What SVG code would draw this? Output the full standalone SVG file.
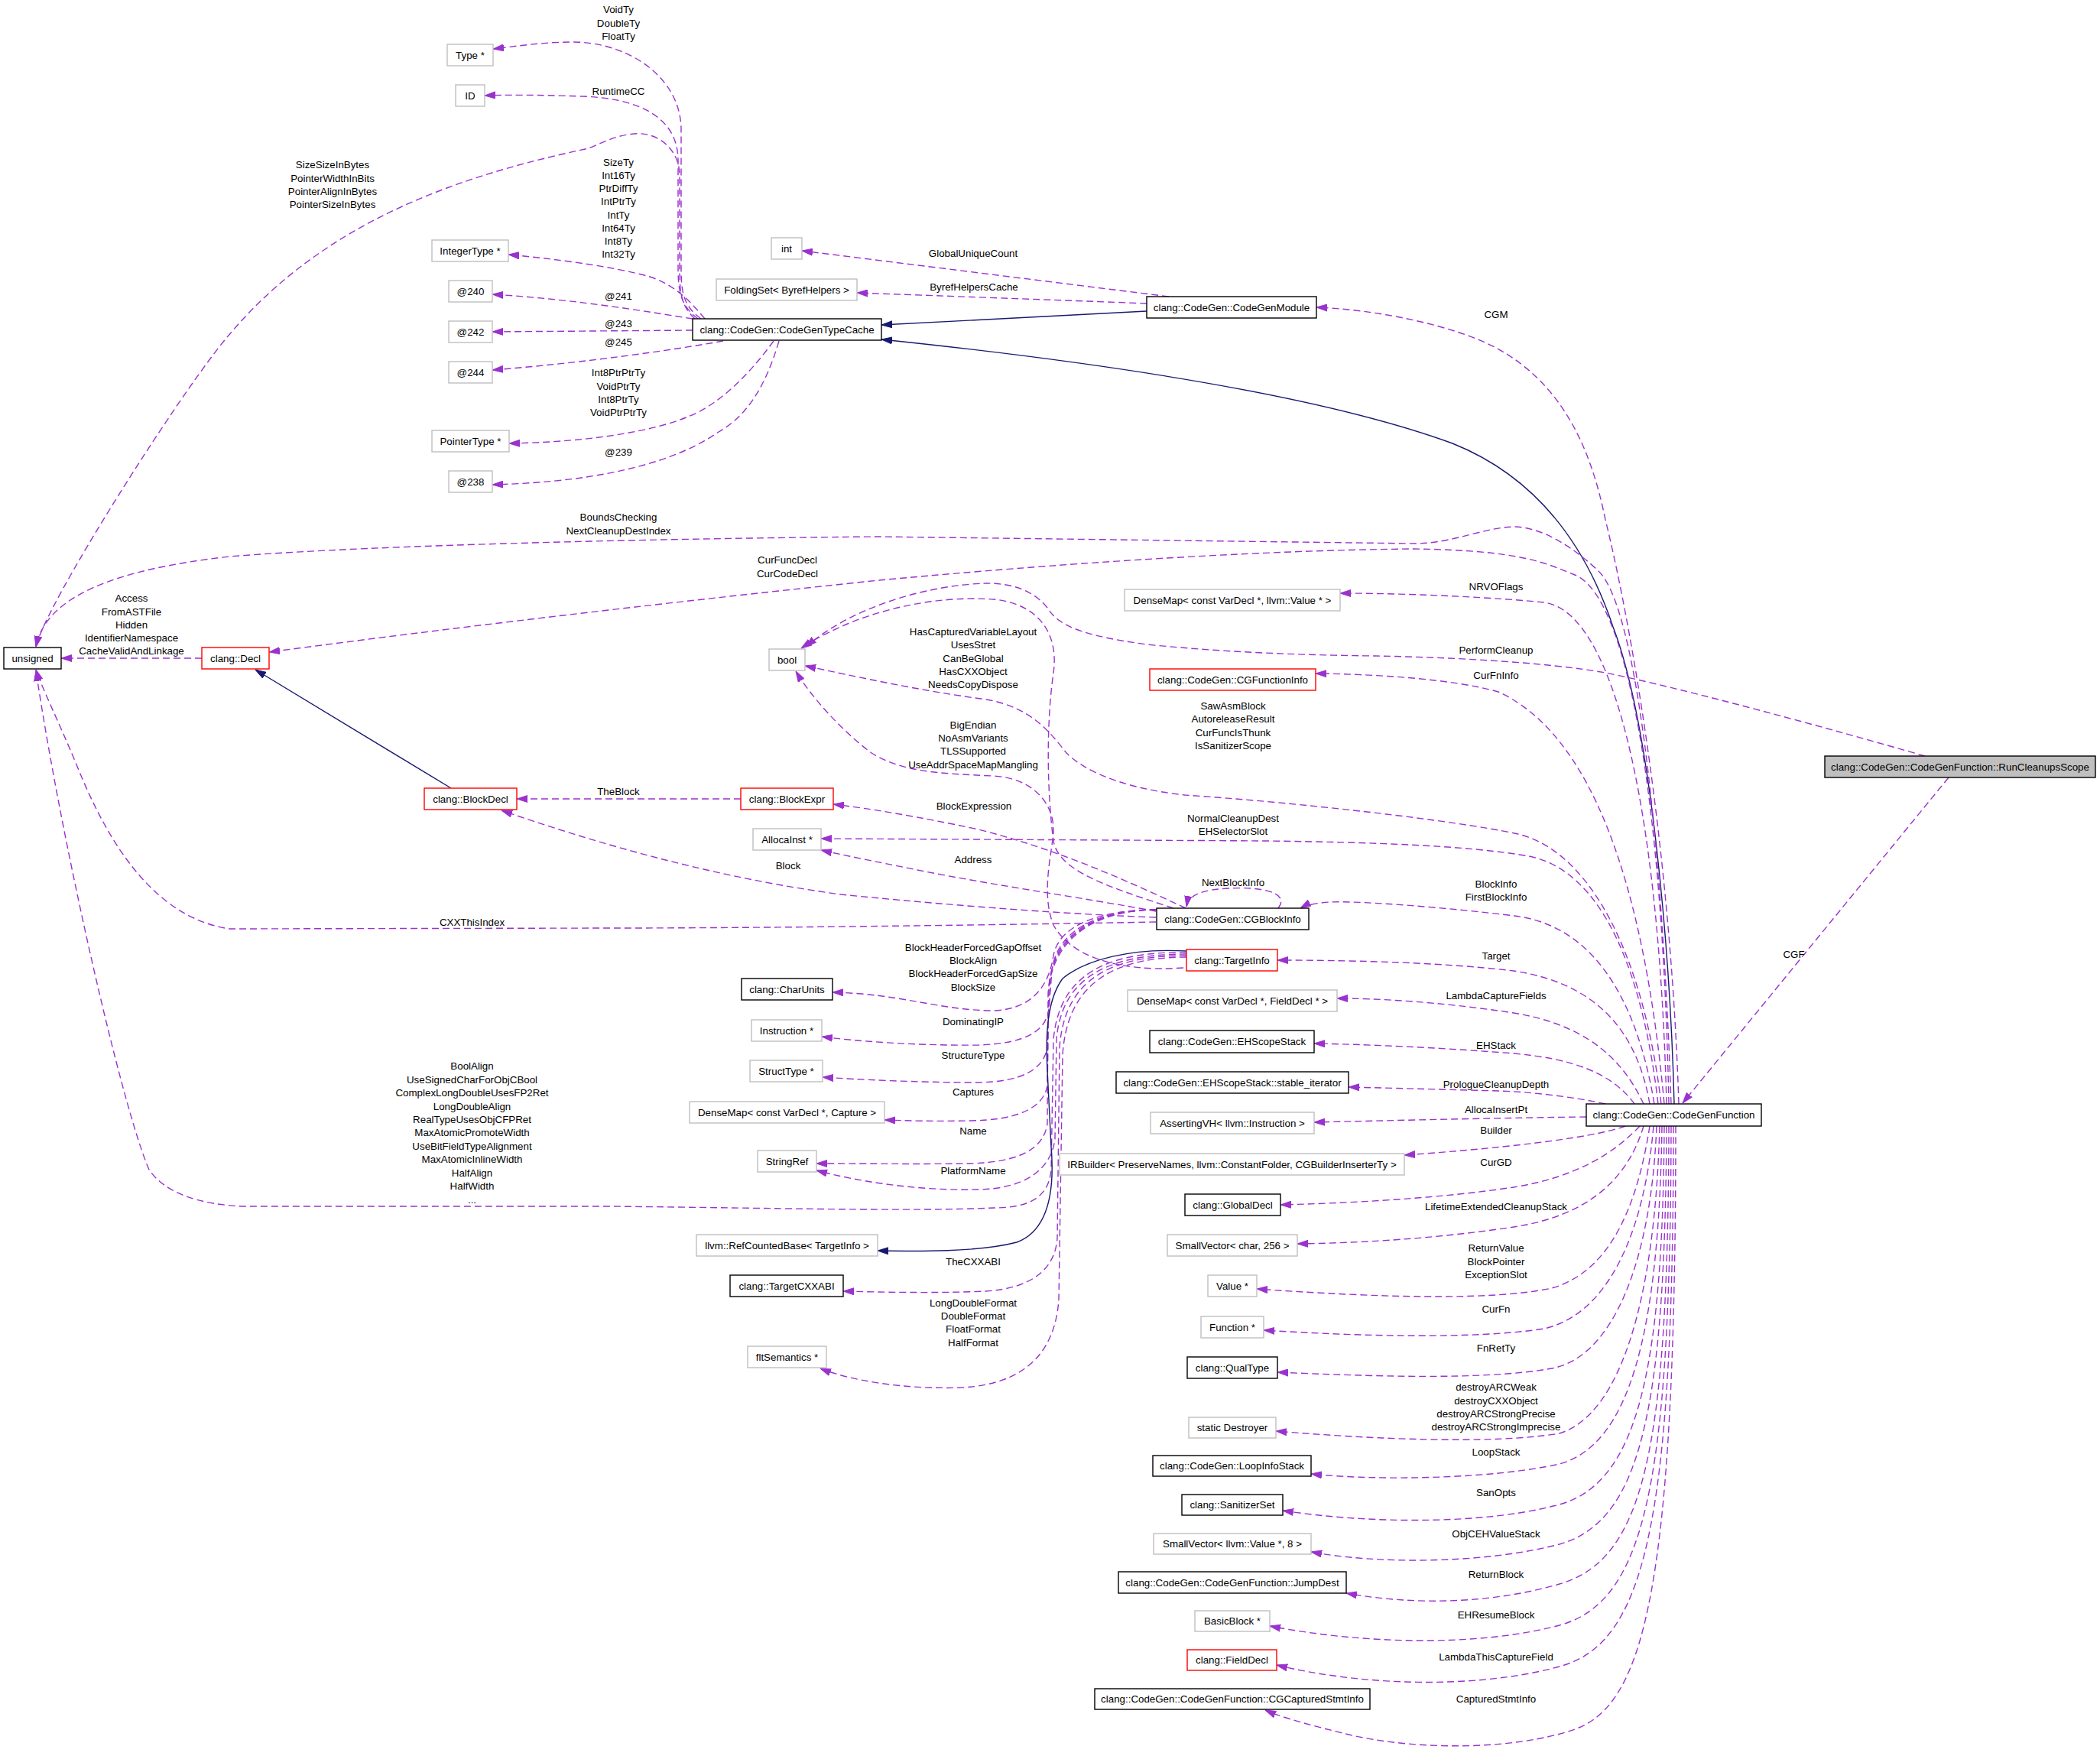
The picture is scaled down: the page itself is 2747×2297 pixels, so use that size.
<svg xmlns="http://www.w3.org/2000/svg" width="2747" height="2297" viewBox="0 0 2747 2297">
<style>
text{font-family:"Liberation Sans",Arial,Helvetica,sans-serif;font-size:13.33px;fill:#000;text-anchor:middle}
.b{fill:#fff;stroke-width:1.4}
.k{stroke:#000}.g{stroke:#bfbfbf}.r{stroke:#ff0000}
.e{fill:none;stroke:#9a32cd;stroke-width:1.4;stroke-dasharray:9,5;marker-end:url(#ap)}
.i{fill:none;stroke:#191970;stroke-width:1.4;marker-end:url(#ai)}
</style>
<defs>
<marker id="ap" viewBox="0 0 14 10" refX="14" refY="5" markerWidth="14" markerHeight="10" markerUnits="userSpaceOnUse" orient="auto"><path d="M0,0.5 L14,5 L0,9.5 Z" fill="#9a32cd" stroke="#9a32cd" stroke-width="1"/></marker>
<marker id="ai" viewBox="0 0 14 10" refX="14" refY="5" markerWidth="14" markerHeight="10" markerUnits="userSpaceOnUse" orient="auto"><path d="M0,0.5 L14,5 L0,9.5 Z" fill="#191970" stroke="#191970" stroke-width="1"/></marker>
</defs>
<rect x="0" y="0" width="2747" height="2297" fill="#fff"/>
<g id="connectors">
<path class="e" d="M917,417 C893,400 891,380 891,350 L891,170 C891,100 820,55 750,55 C710,55 680,60 645,64"/>
<path class="e" d="M913,417 C890,400 887,380 887,350 L887,210 C887,150 830,128 760,126 C700,124 660,124 634,125"/>
<path class="e" d="M909,417 C890,400 889,380 889,350 L889,230 C889,195 860,172 830,175 C805,177 790,186 770,194 C600,230 420,290 293,446 C230,523 60,790 47,846"/>
<path class="e" d="M922,417 C900,390 880,372 850,362 C800,348 720,338 665,333"/>
<path class="e" d="M906,417 C860,410 760,392 644,385"/>
<path class="e" d="M906,432 L644,434"/>
<path class="e" d="M946,446 C880,458 760,475 644,484"/>
<path class="e" d="M1012,446 C980,490 940,530 900,545 C860,562 780,578 666,580"/>
<path class="e" d="M1019,446 C1000,510 975,545 940,565 C890,600 800,630 644,634"/>
<path class="e" d="M1529,388 L1049,328"/>
<path class="e" d="M1500,397 C1400,393 1200,386 1121,383"/>
<path class="i" d="M1500,407 L1153,425"/>
<path class="i" d="M2190,1444 C2185,1250 2160,950 2110,820 C2070,700 2000,620 1900,580 C1750,525 1500,480 1153,444"/>
<path class="e" d="M2196,1444 C2185,1100 2130,800 2100,680 C2080,580 2040,500 1957,455 C1900,425 1800,405 1722,402"/>
<path class="e" d="M2186,1444 C2178,1200 2150,800 2090,746 C2060,718 2020,690 1981,689 C1940,690 1900,711 1850,711 L1150,702 C900,704 500,712 300,728 C150,745 60,780 47,846"/>
<path class="e" d="M2183,1444 C2175,1050 2130,780 2060,752 C2020,736 1990,720 1850,718 C1600,720 1300,745 1150,759 C900,785 600,820 352,853"/>
<path class="e" d="M2180,1444 C2170,1050 2110,800 2020,788 C1960,782 1850,776 1753,776"/>
<path class="e" d="M2177,1444 C2150,1150 2080,960 1960,905 C1900,888 1800,882 1721,881"/>
<path class="e" d="M2173,1444 C2150,1250 2080,1110 1981,1090 C1900,1073 1700,1050 1550,1040 C1460,1030 1415,1005 1395,985 C1375,960 1350,925 1290,915 C1200,903 1120,885 1053,871"/>
<path class="e" d="M2169,1444 C2150,1280 2100,1140 2000,1120 C1920,1106 1800,1102 1660,1100 L1074,1097"/>
<path class="e" d="M2164,1444 C2140,1300 2080,1210 1981,1198 C1900,1188 1780,1178 1740,1180 C1722,1181 1708,1184 1701,1188"/>
<path class="e" d="M2158,1444 C2140,1340 2080,1285 1980,1270 C1880,1258 1750,1256 1671,1256"/>
<path class="e" d="M2150,1444 C2120,1380 2070,1340 1980,1325 C1880,1310 1800,1306 1749,1306"/>
<path class="e" d="M2138,1444 C2110,1405 2060,1385 1980,1378 C1880,1370 1780,1366 1719,1365"/>
<path class="e" d="M2100,1444 C2060,1435 2000,1428 1960,1427 C1880,1425 1810,1423 1764,1422"/>
<path class="e" d="M2075,1461 C1980,1462 1850,1465 1719,1468"/>
<path class="e" d="M2126,1473 C2080,1490 1950,1503 1837,1511"/>
<path class="e" d="M2145,1473 C2110,1510 2060,1540 1980,1553 C1880,1568 1760,1574 1675,1576"/>
<path class="e" d="M2150,1473 C2130,1540 2080,1590 1980,1605 C1880,1620 1780,1626 1697,1627"/>
<path class="e" d="M2158,1473 C2140,1590 2100,1665 2030,1685 C1950,1702 1800,1697 1644,1686"/>
<path class="e" d="M2163,1473 C2150,1620 2100,1720 2020,1738 C1930,1752 1780,1748 1653,1740"/>
<path class="e" d="M2167,1473 C2160,1650 2110,1775 2030,1790 C1940,1806 1790,1800 1671,1795"/>
<path class="e" d="M2171,1473 C2165,1700 2120,1850 2040,1875 C1950,1890 1790,1882 1669,1872"/>
<path class="e" d="M2174,1473 C2170,1750 2130,1890 2040,1915 C1950,1935 1800,1937 1715,1928"/>
<path class="e" d="M2177,1473 C2175,1800 2140,1940 2040,1968 C1940,1995 1790,1993 1678,1976"/>
<path class="e" d="M2180,1473 C2178,1850 2145,1990 2040,2020 C1940,2046 1800,2046 1715,2030"/>
<path class="e" d="M2183,1473 C2182,1900 2150,2040 2040,2072 C1950,2098 1850,2100 1761,2084"/>
<path class="e" d="M2186,1473 C2185,1950 2150,2095 2040,2126 C1930,2155 1780,2150 1661,2127"/>
<path class="e" d="M2189,1473 C2189,2000 2150,2150 2040,2180 C1930,2210 1780,2205 1670,2178"/>
<path class="e" d="M2192,1473 C2192,2080 2150,2230 2060,2262 C1980,2290 1850,2290 1760,2268 C1720,2258 1680,2248 1655,2237"/>
<path class="e" d="M2518,989 C2400,955 2200,900 2100,880 C2020,866 1900,860 1800,858 C1700,857 1600,853 1500,843 C1420,832 1385,820 1370,795 C1350,770 1320,763 1290,763 C1220,765 1120,790 1054,846"/>
<path class="e" d="M2549,1017 L2201,1443"/>
<path class="e" d="M1535,1188 C1450,1160 1385,1140 1378,1100 C1370,1040 1368,950 1378,880 C1385,830 1360,790 1300,784 C1220,778 1120,800 1048,848"/>
<path class="e" d="M1551,1188 C1470,1150 1380,1110 1280,1085 C1200,1068 1140,1058 1090,1052"/>
<path class="e" d="M1512,1192 C1420,1175 1300,1158 1200,1138 C1140,1126 1100,1118 1074,1112"/>
<path class="e" d="M1512,1200 C1400,1196 1250,1185 1100,1170 C950,1150 800,1110 656,1060"/>
<path class="e" d="M1512,1206 C1300,1210 1000,1214 800,1214 L300,1215 C200,1200 140,1100 100,1000 C75,940 55,900 47,876"/>
<path class="e" d="M1672,1188 C1690,1165 1640,1160 1610,1162 C1580,1163 1555,1168 1552,1186"/>
<path class="e" d="M1513,1190 C1440,1190 1385,1210 1378,1250 C1372,1290 1350,1320 1300,1322 C1230,1322 1180,1300 1089,1298"/>
<path class="e" d="M1513,1190 C1440,1190 1382,1215 1376,1270 L1372,1320 C1368,1350 1340,1365 1280,1367 C1200,1368 1120,1362 1075,1356"/>
<path class="e" d="M1513,1190 C1440,1190 1380,1218 1374,1280 L1370,1370 C1365,1400 1335,1415 1280,1416 C1200,1416 1120,1412 1076,1409"/>
<path class="e" d="M1513,1190 C1440,1190 1378,1220 1372,1290 L1370,1420 C1365,1450 1330,1465 1270,1466 C1220,1467 1190,1466 1157,1465"/>
<path class="e" d="M1513,1190 C1440,1190 1376,1222 1371,1300 L1370,1470 C1365,1505 1330,1520 1270,1522 C1200,1523 1120,1522 1068,1522"/>
<path class="e" d="M1548,1266 C1460,1272 1400,1250 1378,1210 C1362,1170 1375,1120 1378,1090 C1380,1050 1350,1018 1300,1015 C1230,1012 1180,1010 1140,985 C1100,955 1060,910 1041,878"/>
<path class="e" d="M1552,1246 C1440,1244 1385,1280 1378,1360 L1375,1530 C1372,1570 1340,1580 1300,1580 C1200,1585 1000,1580 800,1578 L320,1578 C260,1576 215,1560 195,1530 C160,1450 80,1100 47,877"/>
<path class="e" d="M1552,1248 C1440,1248 1388,1285 1382,1360 L1380,1490 C1375,1530 1340,1555 1280,1556 C1200,1558 1120,1545 1068,1531"/>
<path class="e" d="M1552,1250 C1440,1250 1392,1290 1386,1370 L1383,1620 C1380,1660 1350,1685 1290,1689 C1220,1692 1150,1690 1103,1689"/>
<path class="e" d="M1552,1252 C1440,1252 1395,1300 1390,1380 L1385,1700 C1380,1770 1340,1810 1260,1815 C1180,1818 1110,1805 1073,1790"/>
<path class="i" d="M1552,1244 C1480,1240 1420,1255 1390,1280 C1368,1310 1368,1360 1370,1400 L1375,1500 C1380,1560 1370,1610 1330,1625 C1280,1638 1200,1637 1148,1636"/>
<path class="e" d="M969,1045 L676,1045"/>
<path class="i" d="M590,1031 L334,876"/>
<path class="e" d="M264,861 L80,861"/>
</g>
<g id="edge-labels">
<text x="809" y="17.2">VoidTy<tspan x="809" dy="17.4">DoubleTy</tspan><tspan x="809" dy="17.4">FloatTy</tspan></text>
<text x="809" y="123.7">RuntimeCC</text>
<text x="435" y="220.3">SizeSizeInBytes<tspan x="435" dy="17.3">PointerWidthInBits</tspan><tspan x="435" dy="17.3">PointerAlignInBytes</tspan><tspan x="435" dy="17.3">PointerSizeInBytes</tspan></text>
<text x="809" y="216.7">SizeTy<tspan x="809" dy="17.2">Int16Ty</tspan><tspan x="809" dy="17.2">PtrDiffTy</tspan><tspan x="809" dy="17.2">IntPtrTy</tspan><tspan x="809" dy="17.2">IntTy</tspan><tspan x="809" dy="17.2">Int64Ty</tspan><tspan x="809" dy="17.2">Int8Ty</tspan><tspan x="809" dy="17.2">Int32Ty</tspan></text>
<text x="809" y="392.2">@241</text>
<text x="809" y="427.7">@243</text>
<text x="809" y="452">@245</text>
<text x="809" y="492.2">Int8PtrPtrTy<tspan x="809" dy="17.3">VoidPtrTy</tspan><tspan x="809" dy="17.3">Int8PtrTy</tspan><tspan x="809" dy="17.3">VoidPtrPtrTy</tspan></text>
<text x="809" y="596.2">@239</text>
<text x="809" y="681">BoundsChecking<tspan x="809" dy="17.9">NextCleanupDestIndex</tspan></text>
<text x="1030" y="736.7">CurFuncDecl<tspan x="1030" dy="18">CurCodeDecl</tspan></text>
<text x="172" y="787.3">Access<tspan x="172" dy="17.2">FromASTFile</tspan><tspan x="172" dy="17.2">Hidden</tspan><tspan x="172" dy="17.2">IdentifierNamespace</tspan><tspan x="172" dy="17.2">CacheValidAndLinkage</tspan></text>
<text x="809" y="1040">TheBlock</text>
<text x="1031" y="1136.7">Block</text>
<text x="617.5" y="1210.7">CXXThisIndex</text>
<text x="1273" y="335.7">GlobalUniqueCount</text>
<text x="1274" y="380.1">ByrefHelpersCache</text>
<text x="1957" y="415.7">CGM</text>
<text x="1273" y="830.7">HasCapturedVariableLayout<tspan x="1273" dy="17.4">UsesStret</tspan><tspan x="1273" dy="17.4">CanBeGlobal</tspan><tspan x="1273" dy="17.4">HasCXXObject</tspan><tspan x="1273" dy="17.4">NeedsCopyDispose</tspan></text>
<text x="1957" y="771.7">NRVOFlags</text>
<text x="1957" y="854.7">PerformCleanup</text>
<text x="1957" y="887.7">CurFnInfo</text>
<text x="1613" y="927.7">SawAsmBlock<tspan x="1613" dy="17.4">AutoreleaseResult</tspan><tspan x="1613" dy="17.4">CurFuncIsThunk</tspan><tspan x="1613" dy="17.4">IsSanitizerScope</tspan></text>
<text x="1273" y="952.7">BigEndian<tspan x="1273" dy="17.3">NoAsmVariants</tspan><tspan x="1273" dy="17.3">TLSSupported</tspan><tspan x="1273" dy="17.3">UseAddrSpaceMapMangling</tspan></text>
<text x="1274" y="1059.2">BlockExpression</text>
<text x="1613" y="1075.2">NormalCleanupDest<tspan x="1613" dy="17">EHSelectorSlot</tspan></text>
<text x="1273" y="1128.7">Address</text>
<text x="1613" y="1159.2">NextBlockInfo</text>
<text x="1957" y="1160.7">BlockInfo<tspan x="1957" dy="17.6">FirstBlockInfo</tspan></text>
<text x="1273" y="1243.7">BlockHeaderForcedGapOffset<tspan x="1273" dy="17.3">BlockAlign</tspan><tspan x="1273" dy="17.3">BlockHeaderForcedGapSize</tspan><tspan x="1273" dy="17.3">BlockSize</tspan></text>
<text x="1957" y="1254.7">Target</text>
<text x="1957" y="1306.7">LambdaCaptureFields</text>
<text x="1273" y="1341.2">DominatingIP</text>
<text x="1957" y="1371.7">EHStack</text>
<text x="1273" y="1385.2">StructureType</text>
<text x="617.5" y="1399.4">BoolAlign<tspan x="617.5" dy="17.41">UseSignedCharForObjCBool</tspan><tspan x="617.5" dy="17.41">ComplexLongDoubleUsesFP2Ret</tspan><tspan x="617.5" dy="17.41">LongDoubleAlign</tspan><tspan x="617.5" dy="17.41">RealTypeUsesObjCFPRet</tspan><tspan x="617.5" dy="17.41">MaxAtomicPromoteWidth</tspan><tspan x="617.5" dy="17.41">UseBitFieldTypeAlignment</tspan><tspan x="617.5" dy="17.41">MaxAtomicInlineWidth</tspan><tspan x="617.5" dy="17.41">HalfAlign</tspan><tspan x="617.5" dy="17.41">HalfWidth</tspan><tspan x="617.5" dy="17.41">...</tspan></text>
<text x="1957" y="1422.7">PrologueCleanupDepth</text>
<text x="1273" y="1432.7">Captures</text>
<text x="1957" y="1455.7">AllocaInsertPt</text>
<text x="1957" y="1482.7">Builder</text>
<text x="1273" y="1484.3">Name</text>
<text x="1957" y="1524.7">CurGD</text>
<text x="1273" y="1535.7">PlatformName</text>
<text x="1957" y="1582.7">LifetimeExtendedCleanupStack</text>
<text x="1957" y="1636.7">ReturnValue<tspan x="1957" dy="17.8">BlockPointer</tspan><tspan x="1957" dy="17.8">ExceptionSlot</tspan></text>
<text x="1273" y="1654.7">TheCXXABI</text>
<text x="1273" y="1708.7">LongDoubleFormat<tspan x="1273" dy="17.3">DoubleFormat</tspan><tspan x="1273" dy="17.3">FloatFormat</tspan><tspan x="1273" dy="17.3">HalfFormat</tspan></text>
<text x="1957" y="1716.7">CurFn</text>
<text x="1957" y="1767.7">FnRetTy</text>
<text x="1957" y="1819.4">destroyARCWeak<tspan x="1957" dy="17.3">destroyCXXObject</tspan><tspan x="1957" dy="17.3">destroyARCStrongPrecise</tspan><tspan x="1957" dy="17.3">destroyARCStrongImprecise</tspan></text>
<text x="1957" y="1903.7">LoopStack</text>
<text x="1957" y="1957.1">SanOpts</text>
<text x="1957" y="2010.5">ObjCEHValueStack</text>
<text x="1957" y="2063.7">ReturnBlock</text>
<text x="1957" y="2117.1">EHResumeBlock</text>
<text x="1957" y="2171.7">LambdaThisCaptureField</text>
<text x="1957" y="2226.7">CapturedStmtInfo</text>
<text x="2346.5" y="1252.7">CGF</text>
</g>
<g id="n-type"><rect class="b g" x="585" y="58" width="60" height="28"/><text x="615" y="76.7">Type *</text></g>
<g id="n-id"><rect class="b g" x="596" y="111" width="38" height="28"/><text x="615" y="129.7">ID</text></g>
<g id="n-integertype"><rect class="b g" x="565" y="314" width="100" height="28"/><text x="615" y="332.7">IntegerType *</text></g>
<g id="n-at240"><rect class="b g" x="587" y="367" width="57" height="28"/><text x="615.5" y="385.7">@240</text></g>
<g id="n-at242"><rect class="b g" x="587" y="420" width="57" height="28"/><text x="615.5" y="438.7">@242</text></g>
<g id="n-at244"><rect class="b g" x="587" y="473" width="57" height="28"/><text x="615.5" y="491.7">@244</text></g>
<g id="n-pointertype"><rect class="b g" x="565" y="563" width="101" height="28"/><text x="615.5" y="581.7">PointerType *</text></g>
<g id="n-at238"><rect class="b g" x="587" y="616" width="57" height="28"/><text x="615.5" y="634.7">@238</text></g>
<g id="n-codegentypecache"><rect class="b k" x="906" y="417" width="247" height="28"/><text x="1029.5" y="435.7">clang::CodeGen::CodeGenTypeCache</text></g>
<g id="n-int"><rect class="b g" x="1009" y="311" width="40" height="28"/><text x="1029" y="329.7">int</text></g>
<g id="n-foldingset"><rect class="b g" x="937" y="365" width="184" height="28"/><text x="1029" y="383.7">FoldingSet&lt; ByrefHelpers &gt;</text></g>
<g id="n-codegenmodule"><rect class="b k" x="1500" y="388" width="222" height="28"/><text x="1611" y="406.7">clang::CodeGen::CodeGenModule</text></g>
<g id="n-unsigned"><rect class="b k" x="5" y="847" width="75" height="28"/><text x="42.5" y="865.7">unsigned</text></g>
<g id="n-decl"><rect class="b r" x="264" y="847" width="88" height="28"/><text x="308" y="865.7">clang::Decl</text></g>
<g id="n-blockdecl"><rect class="b r" x="555" y="1031" width="121" height="28"/><text x="615.5" y="1049.7">clang::BlockDecl</text></g>
<g id="n-blockexpr"><rect class="b r" x="969" y="1031" width="121" height="28"/><text x="1029.5" y="1049.7">clang::BlockExpr</text></g>
<g id="n-bool"><rect class="b g" x="1006" y="849" width="47" height="28"/><text x="1029.5" y="867.7">bool</text></g>
<g id="n-allocainst"><rect class="b g" x="985" y="1084" width="89" height="28"/><text x="1029.5" y="1102.7">AllocaInst *</text></g>
<g id="n-charunits"><rect class="b k" x="970" y="1280" width="119" height="28"/><text x="1029.5" y="1298.7">clang::CharUnits</text></g>
<g id="n-instruction"><rect class="b g" x="983" y="1334" width="92" height="28"/><text x="1029" y="1352.7">Instruction *</text></g>
<g id="n-structtype"><rect class="b g" x="981" y="1387" width="95" height="28"/><text x="1028.5" y="1405.7">StructType *</text></g>
<g id="n-densemap-capture"><rect class="b g" x="902" y="1441" width="255" height="28"/><text x="1029.5" y="1459.7">DenseMap&lt; const VarDecl *, Capture &gt;</text></g>
<g id="n-stringref"><rect class="b g" x="991" y="1505" width="77" height="28"/><text x="1029.5" y="1523.7">StringRef</text></g>
<g id="n-refcountedbase"><rect class="b g" x="911" y="1615" width="237" height="28"/><text x="1029.5" y="1633.7">llvm::RefCountedBase&lt; TargetInfo &gt;</text></g>
<g id="n-targetcxxabi"><rect class="b k" x="955" y="1668" width="148" height="28"/><text x="1029" y="1686.7">clang::TargetCXXABI</text></g>
<g id="n-fltsemantics"><rect class="b g" x="978" y="1761" width="103" height="28"/><text x="1029.5" y="1779.7">fltSemantics *</text></g>
<g id="n-densemap-value"><rect class="b g" x="1471" y="771" width="282" height="28"/><text x="1612" y="789.7">DenseMap&lt; const VarDecl *, llvm::Value * &gt;</text></g>
<g id="n-cgfunctioninfo"><rect class="b r" x="1504" y="875" width="217" height="28"/><text x="1612.5" y="893.7">clang::CodeGen::CGFunctionInfo</text></g>
<g id="n-cgblockinfo"><rect class="b k" x="1513" y="1188" width="199" height="28"/><text x="1612.5" y="1206.7">clang::CodeGen::CGBlockInfo</text></g>
<g id="n-targetinfo"><rect class="b r" x="1552" y="1242" width="119" height="28"/><text x="1611.5" y="1260.7">clang::TargetInfo</text></g>
<g id="n-densemap-fielddecl"><rect class="b g" x="1475" y="1295" width="274" height="28"/><text x="1612" y="1313.7">DenseMap&lt; const VarDecl *, FieldDecl * &gt;</text></g>
<g id="n-ehscopestack"><rect class="b k" x="1504" y="1348" width="215" height="29"/><text x="1611.5" y="1367.2">clang::CodeGen::EHScopeStack</text></g>
<g id="n-stable-iterator"><rect class="b k" x="1460" y="1402" width="304" height="28"/><text x="1612" y="1420.7">clang::CodeGen::EHScopeStack::stable_iterator</text></g>
<g id="n-assertingvh"><rect class="b g" x="1505" y="1455" width="214" height="28"/><text x="1612" y="1473.7">AssertingVH&lt; llvm::Instruction &gt;</text></g>
<g id="n-irbuilder"><rect class="b g" x="1386" y="1509" width="451" height="28"/><text x="1611.5" y="1527.7">IRBuilder&lt; PreserveNames, llvm::ConstantFolder, CGBuilderInserterTy &gt;</text></g>
<g id="n-globaldecl"><rect class="b k" x="1550" y="1562" width="125" height="28"/><text x="1612.5" y="1580.7">clang::GlobalDecl</text></g>
<g id="n-smallvector-char"><rect class="b g" x="1527" y="1615" width="170" height="28"/><text x="1612" y="1633.7">SmallVector&lt; char, 256 &gt;</text></g>
<g id="n-value"><rect class="b g" x="1580" y="1668" width="64" height="28"/><text x="1612" y="1686.7">Value *</text></g>
<g id="n-function"><rect class="b g" x="1571" y="1722" width="82" height="28"/><text x="1612" y="1740.7">Function *</text></g>
<g id="n-qualtype"><rect class="b k" x="1553" y="1775" width="118" height="28"/><text x="1612" y="1793.7">clang::QualType</text></g>
<g id="n-destroyer"><rect class="b g" x="1555" y="1854" width="114" height="27"/><text x="1612" y="1872.2">static Destroyer</text></g>
<g id="n-loopinfostack"><rect class="b k" x="1508" y="1904" width="207" height="27"/><text x="1611.5" y="1922.2">clang::CodeGen::LoopInfoStack</text></g>
<g id="n-sanitizerset"><rect class="b k" x="1546" y="1955" width="132" height="27"/><text x="1612" y="1973.2">clang::SanitizerSet</text></g>
<g id="n-smallvector-value"><rect class="b g" x="1509" y="2006" width="206" height="27"/><text x="1612" y="2024.2">SmallVector&lt; llvm::Value *, 8 &gt;</text></g>
<g id="n-jumpdest"><rect class="b k" x="1463" y="2056" width="298" height="28"/><text x="1612" y="2074.7">clang::CodeGen::CodeGenFunction::JumpDest</text></g>
<g id="n-basicblock"><rect class="b g" x="1563" y="2107" width="98" height="27"/><text x="1612" y="2125.2">BasicBlock *</text></g>
<g id="n-fielddecl"><rect class="b r" x="1553" y="2158" width="117" height="27"/><text x="1611.5" y="2176.2">clang::FieldDecl</text></g>
<g id="n-cgcapturedstmtinfo"><rect class="b k" x="1432" y="2209" width="360" height="27"/><text x="1612" y="2227.2">clang::CodeGen::CodeGenFunction::CGCapturedStmtInfo</text></g>
<g id="n-codegenfunction"><rect class="b k" x="2075" y="1444" width="229" height="29"/><text x="2189.5" y="1463.2">clang::CodeGen::CodeGenFunction</text></g>
<g id="n-runcleanupsscope"><rect class="k" fill="#bfbfbf" stroke-width="1.4" x="2387" y="989" width="354" height="28"/><text x="2564" y="1007.7">clang::CodeGen::CodeGenFunction::RunCleanupsScope</text></g>
</svg>
